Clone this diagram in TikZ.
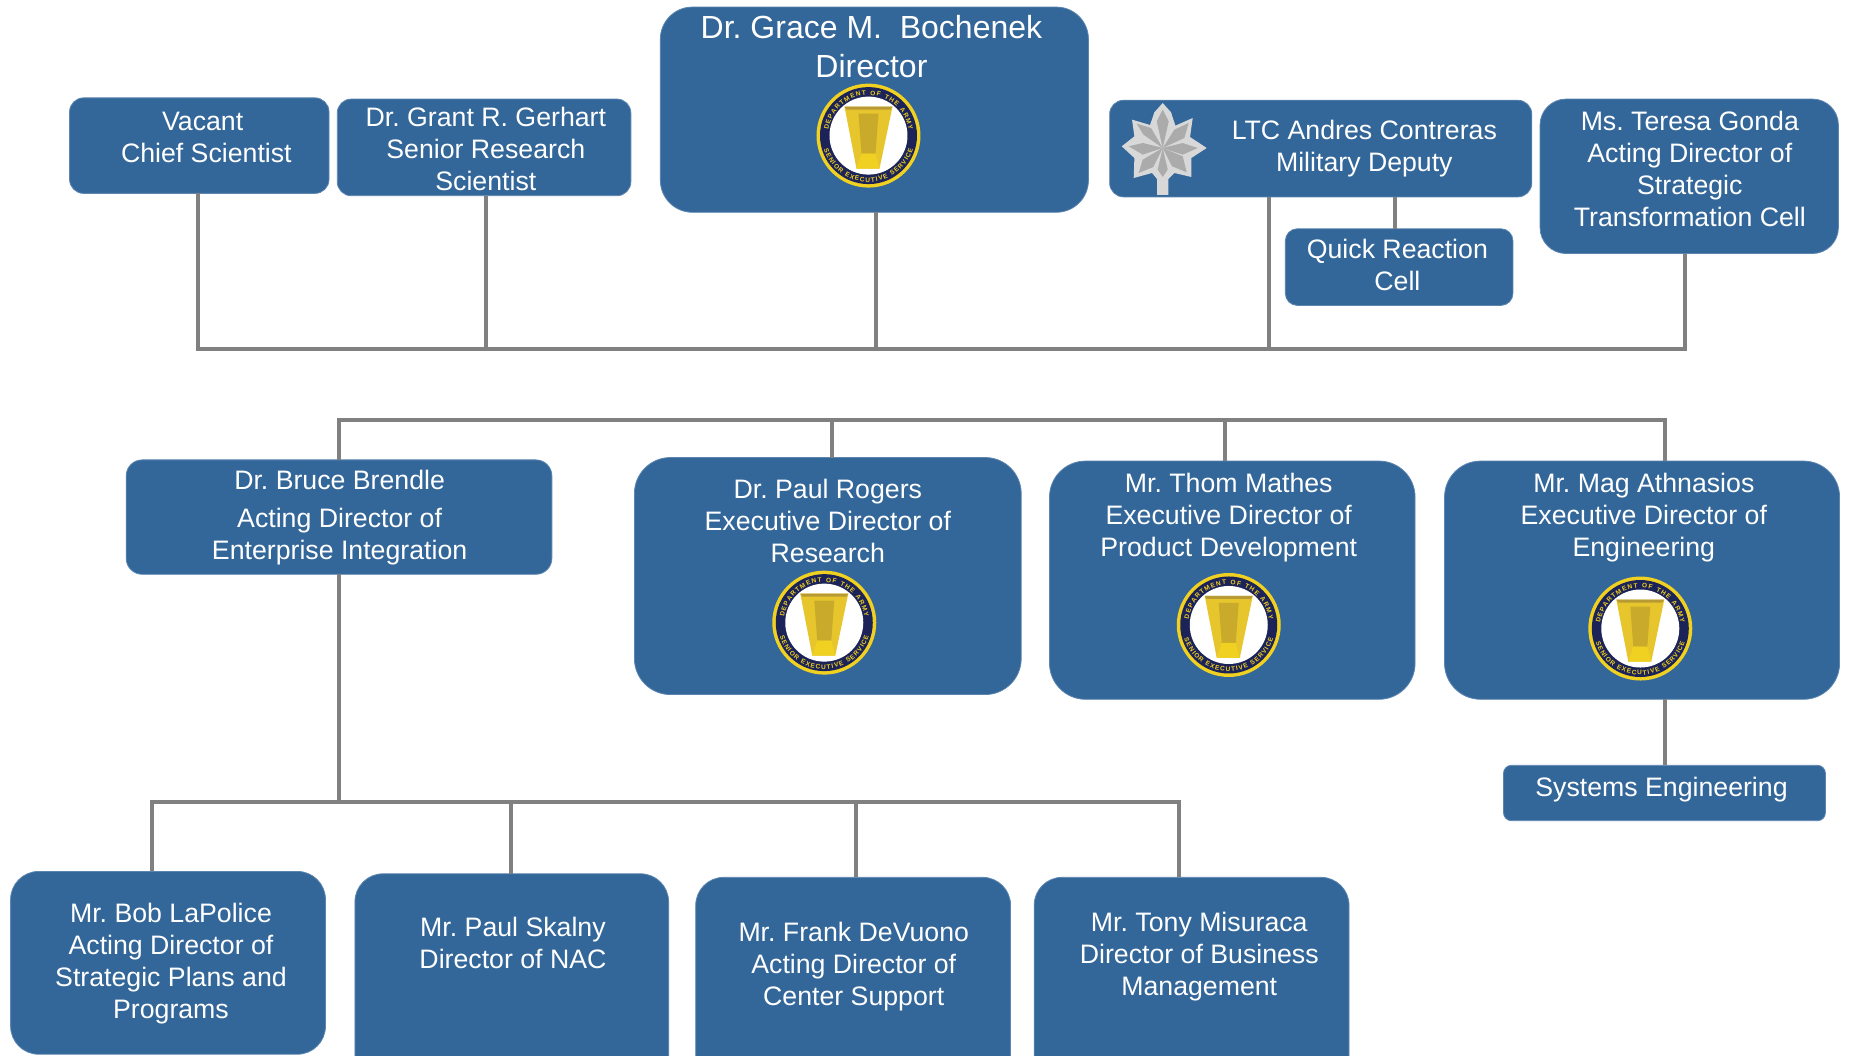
\documentclass[tikz,border=0pt]{standalone}
\usepackage{fontspec}
\setmainfont{Liberation Sans}
\frenchspacing
\usetikzlibrary{fit,decorations.text}
\definecolor{boxblue}{HTML}{336699}
\definecolor{boxedge}{HTML}{5C86B0}
\definecolor{linegray}{HTML}{808080}
\definecolor{sealnavy}{HTML}{1C2358}
\definecolor{sealgold}{HTML}{F0D020}
\definecolor{cupgold}{HTML}{E6C62C}
\definecolor{cupdark}{HTML}{B89A34}
\definecolor{cupmid}{HTML}{C9AA2A}
\definecolor{leaflight}{HTML}{D8D8D8}
\definecolor{leafdark}{HTML}{ABABAB}
\tikzset{
  orgbox/.style={draw=boxedge,line width=0.8pt,fill=boxblue,inner sep=0pt,outer sep=0pt,rounded corners=#1},
  orgtext/.style={text=white,align=center,inner sep=0pt,font=\fontsize{26.7}{32.1}\selectfont},
  bigtext/.style={text=white,align=center,inner sep=0pt,font=\fontsize{32}{39}\selectfont},
  conn/.style={draw=linegray,line width=4pt,line cap=butt},
  bus/.style={draw=linegray,line width=4pt,line cap=rect}
}
% name, x1,y1,x2,y2, radius
\newcommand{\orgrect}[6]{\node[orgbox=#6,fit={(#2,#3)(#4,#5)}] (#1) {};}
\newcommand{\sealat}[3]{%
  \begin{scope}[shift={(#2,#3)},x=1pt,y=1pt]
    \fill[sealgold] (0,0) circle[radius=52];
    \fill[sealnavy] (0,0) circle[radius=48.5];
    \fill[white] (0,0) circle[radius=39];
    \path[postaction={decorate,decoration={text along path,text align={fit to path},
      text={|\fontsize{6.5}{8}\selectfont\bfseries\color{sealgold}|DEPARTMENT OF THE ARMY}}}]
      (172:40.5) arc[start angle=172,end angle=8,radius=40.5];
    \path[postaction={decorate,decoration={text along path,text align={fit to path},
      text={|\fontsize{6.5}{8}\selectfont\bfseries\color{sealgold}|SENIOR EXECUTIVE SERVICE}}}]
      (197:46.5) arc[start angle=197,end angle=343,radius=46.5];
    \fill[cupgold] (-24,29) -- (24,29) -- (11,-33) -- (-12,-33) -- cycle;
    \fill[cupdark] (-24,29) -- (24,29) -- (22,26) -- (-22,26) -- cycle;
    \fill[cupmid] (-10,22) -- (10,22) -- (7,-18) -- (-7,-18) -- cycle;
    \fill[sealgold] (-7,-18) -- (7,-18) -- (11,-33) -- (-12,-33) -- cycle;
  \end{scope}}
\begin{document}
\begin{tikzpicture}[x=1.17921pt,y=-1.17921pt]
\clip (0,0) rectangle (1568,894.7);
\fill[white] (0,0) rectangle (1568,894.7);
% boxes
\orgrect{vacant}{59}{83}{279}{164}{14pt}
\orgrect{gerhart}{286}{84}{535}{166}{14pt}
\orgrect{grace}{560}{6}{923}{180}{32pt}
\orgrect{ltc}{941}{85}{1299}{167}{14pt}
\orgrect{quick}{1090}{194}{1283}{259}{12pt}
\orgrect{gonda}{1306}{84}{1559}{215}{26pt}
\orgrect{brendle}{107}{390}{468}{487}{16pt}
\orgrect{rogers}{538}{388}{866}{589}{36pt}
\orgrect{mathes}{890}{391}{1200}{593}{36pt}
\orgrect{athnasios}{1225}{391}{1560}{593}{36pt}
\orgrect{systems}{1275}{649}{1548}{696}{8pt}
\orgrect{lapolice}{9}{739}{276}{894}{28pt}
\orgrect{skalny}{301}{741}{567}{930}{28pt}
\orgrect{devuono}{590}{744}{857}{930}{28pt}
\orgrect{misuraca}{877}{744}{1144}{930}{28pt}
% texts
\node[orgtext] (vacant-t) at (175,116.5) {Vacant\ \mbox{}\\Chief Scientist};
\node[orgtext] (gerhart-t) at (412,126.5) {Dr. Grant R. Gerhart\\Senior Research\\Scientist};
\node[bigtext] (grace-t) at (739,39.5) {Dr. Grace M.\ \ Bochenek\\Director};
\node[orgtext] (ltc-t) at (1157,126) {LTC Andres Contreras\\Military Deputy};
\node[orgtext] (quick-t) at (1185,224.5) {Quick Reaction\\Cell};
\node[orgtext] (gonda-t) at (1433,143.5) {Ms. Teresa Gonda\\Acting Director of\\Strategic\\Transformation Cell};
\node[orgtext] (brendle-t) at (288,439) {Dr. Bruce Brendle\\[6pt]Acting Director of\\[0pt]Enterprise Integration};
\node[orgtext] (rogers-t) at (702,442) {Dr. Paul Rogers\\Executive Director of\\Research};
\node[orgtext] (mathes-t) at (1042,439) {Mr. Thom Mathes\\Executive Director of\\Product Development};
\node[orgtext] (athnasios-t) at (1394,439) {Mr. Mag Athnasios\\Executive Director of\\Engineering};
\node[orgtext] (systems-t) at (1409,670) {Systems Engineering};
\node[orgtext] (lapolice-t) at (145,817) {Mr. Bob LaPolice\\Acting Director of\\Strategic Plans and\\Programs};
\node[orgtext] (skalny-t) at (435,799.5) {Mr. Paul Skalny\\Director of NAC};
\node[orgtext] (devuono-t) at (724,819.5) {Mr. Frank DeVuono\\Acting Director of\\Center Support};
\node[orgtext] (misuraca-t) at (1017,811.5) {Mr. Tony Misuraca\\Director of Business\\Management};
% seals
\sealat{grace}{736.5}{115}
\sealat{rogers}{699}{528}
\sealat{mathes}{1042}{530}
\sealat{athnasios}{1391}{533}
% oak leaf
\begin{scope}[shift={(986,125.5)},x=0.3333pt,y=-0.3333pt,shift={(-190,-175)}]
  \fill[leaflight] (190,40) -- (215,68) -- (228,108) -- (280,85) -- (272,142) -- (322,175) -- (276,205) -- (276,262) -- (225,250) -- (207,268) -- (207,316) -- (173,316) -- (173,268) -- (158,250) -- (103,265) -- (105,205) -- (67,170) -- (105,140) -- (98,90) -- (152,106) -- (165,68) -- cycle;
  \fill[leafdark] (190,175) -- (172,95) -- (190,60) -- (208,95) -- cycle;
  \fill[leafdark] (190,175) -- (225,120) -- (268,100) -- (255,145) -- cycle;
  \fill[leafdark] (190,175) -- (250,160) -- (295,175) -- (250,195) -- cycle;
  \fill[leafdark] (190,175) -- (250,200) -- (262,248) -- (218,230) -- cycle;
  \fill[leafdark] (190,175) -- (132,135) -- (112,102) -- (155,115) -- cycle;
  \fill[leafdark] (190,175) -- (130,160) -- (88,170) -- (130,195) -- cycle;
  \fill[leafdark] (190,175) -- (130,210) -- (118,250) -- (162,232) -- cycle;
  \fill[leafdark] (190,175) -- (205,240) -- (190,262) -- (175,240) -- cycle;
\end{scope}
% junction coordinates
\coordinate (a1) at (168,296);
\coordinate (a2) at (412.5,296);
\coordinate (a3) at (743,296);
\coordinate (a4) at (1076,296);
\coordinate (a5) at (1429,296);
\coordinate (q1) at (1183,194);
\coordinate (b1) at (287.5,356);
\coordinate (b2) at (705.5,356);
\coordinate (b3) at (1038.5,356);
\coordinate (b4) at (1412,356);
\coordinate (s1) at (1412,649);
\coordinate (c0) at (287.5,680);
\coordinate (c1) at (129,680);
\coordinate (c2) at (433,678);
\coordinate (c3) at (725.5,680);
\coordinate (c4) at (1000,680);
% connectors
\draw[bus] (a1) -- (a5);
\draw[conn] (vacant.south -| a1) -- (a1);
\draw[conn] (gerhart.south -| a2) -- (a2);
\draw[conn] (grace.south -| a3) -- (a3);
\draw[conn] (ltc.south -| a4) -- (a4);
\draw[conn] (gonda.south -| a5) -- (a5);
\draw[conn] (ltc.south -| q1) -- (quick.north -| q1);
\draw[bus] (b1) -- (b4);
\draw[conn] (b1) -- (brendle.north -| b1);
\draw[conn] (b2) -- (rogers.north -| b2);
\draw[conn] (b3) -- (mathes.north -| b3);
\draw[conn] (b4) -- (athnasios.north -| b4);
\draw[conn] (athnasios.south -| s1) -- (systems.north -| s1);
\draw[conn] (brendle.south -| c0) -- (c0);
\draw[bus] (c1) -- (c4);
\draw[conn] (c1) -- (lapolice.north -| c1);
\draw[conn] (c2) -- (skalny.north -| c2);
\draw[conn] (c3) -- (devuono.north -| c3);
\draw[conn] (c4) -- (misuraca.north -| c4);
\end{tikzpicture}
\end{document}
